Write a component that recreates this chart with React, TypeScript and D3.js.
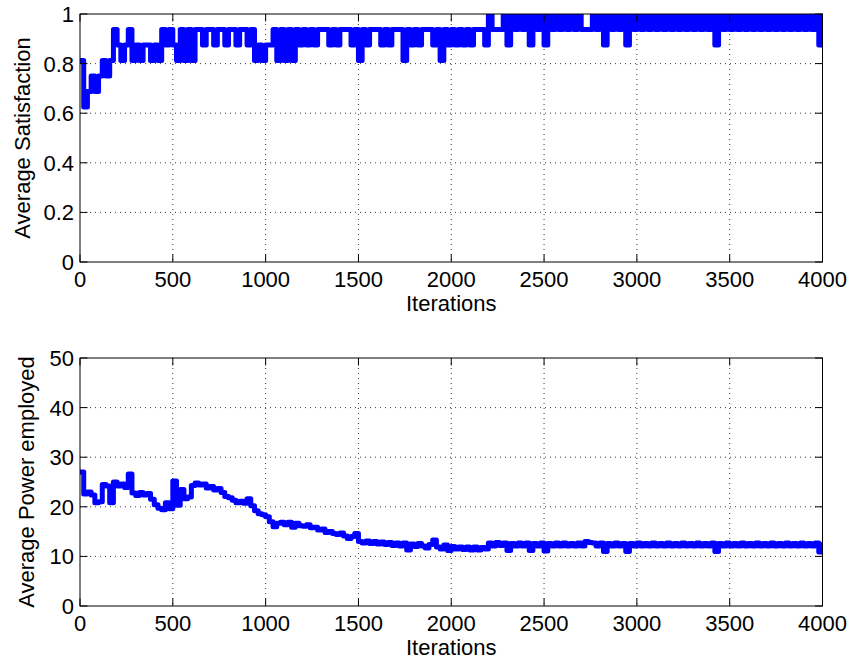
import React from "react";
import * as d3 from "d3";

// ---------- data ----------
const ITERATION_STEP = 20; // samples read every 20 iterations
const USERS = 16;
const X_TICKS = [0, 500, 1000, 1500, 2000, 2500, 3000, 3500, 4000];
const SAT_TICKS = [0, 0.2, 0.4, 0.6, 0.8, 1];
const SAT_TICK_LABELS = ["0", "0.2", "0.4", "0.6", "0.8", "1"];
const POW_TICKS = [0, 10, 20, 30, 40, 50];
const POW_TICK_LABELS = ["0", "10", "20", "30", "40", "50"];

// number of satisfied users (out of 16), one value every 20 iterations
const satisfiedUsers = [
  13, 10, 11, 12, 11, 12, 13, 12, 13, 15,
  14, 13, 14, 15, 13, 14, 13, 14, 14, 13,
  14, 13, 15, 14, 15, 14, 13, 15, 13, 15,
  13, 15, 15, 14, 15, 15, 14, 15, 15, 14,
  15, 15, 14, 15, 15, 14, 15, 13, 14, 13,
  14, 14, 15, 13, 15, 13, 15, 13, 15, 14,
  15, 14, 15, 14, 15, 15, 15, 14, 15, 14,
  15, 15, 15, 14, 15, 13, 15, 14, 15, 15,
  15, 14, 15, 14, 15, 15, 15, 13, 15, 14,
  15, 14, 15, 15, 15, 14, 15, 13, 15, 14,
  15, 14, 15, 14, 15, 14, 15, 15, 15, 14,
  16, 15, 15, 15, 16, 14, 16, 15, 16, 15,
  16, 14, 16, 15, 16, 14, 16, 15, 16, 15,
  16, 15, 16, 15, 16, 15, 15, 15, 16, 15,
  16, 14, 16, 15, 16, 15, 16, 14, 16, 15,
  16, 15, 16, 15, 16, 15, 16, 15, 16, 15,
  16, 15, 16, 15, 16, 15, 16, 15, 16, 15,
  16, 14, 16, 15, 16, 15, 16, 15, 16, 15,
  16, 15, 16, 15, 16, 15, 16, 15, 16, 15,
  16, 15, 16, 15, 16, 15, 16, 15, 16, 14,
  16,
];

// average power employed, one value every 20 iterations
const averagePower = [
  27.0, 22.6, 23.0, 22.4, 20.8, 21.0, 24.5, 24.2, 20.8, 25.0,
  24.2, 24.6, 23.9, 26.6, 22.8, 22.3, 22.9, 22.4, 22.7, 21.5,
  20.4, 19.7, 19.4, 20.8, 19.6, 25.2, 20.3, 23.5, 21.6, 22.0,
  24.3, 24.8, 24.4, 24.6, 23.8, 24.1, 23.4, 23.7, 22.9, 22.1,
  21.8, 21.3, 20.8, 21.1, 20.7, 21.6, 20.2, 19.2, 18.6, 18.4,
  18.0, 17.0, 16.0, 16.7, 16.9, 16.4, 16.9, 15.9, 16.7, 16.2,
  16.1, 16.4, 15.8, 15.9, 15.3, 15.5, 14.8, 15.0, 14.6, 14.4,
  14.7, 14.1, 13.6, 14.0, 14.6, 13.0, 12.7, 13.1, 12.6, 13.0,
  12.5, 12.9, 12.4, 12.8, 12.2, 12.7, 12.1, 12.7, 11.3, 12.5,
  12.0, 12.6, 12.1, 11.7, 12.4, 13.3, 11.9, 11.5, 12.3, 11.2,
  12.0, 11.5, 11.9, 11.4, 11.9, 11.3, 11.9, 11.3, 11.8, 11.5,
  12.7, 12.1, 12.8, 12.2, 12.7, 11.2, 12.6, 12.1, 12.7, 12.1,
  12.7, 11.2, 12.6, 12.1, 12.7, 11.1, 12.6, 12.1, 12.7, 12.1,
  12.7, 12.1, 12.6, 12.1, 12.7, 12.1, 13.0, 12.8, 12.7, 12.1,
  12.7, 11.0, 12.6, 12.1, 12.7, 12.1, 12.6, 11.0, 12.6, 12.1,
  12.7, 12.1, 12.6, 12.1, 12.7, 12.1, 12.6, 12.1, 12.7, 12.1,
  12.6, 12.1, 12.7, 12.1, 12.6, 12.1, 12.7, 12.1, 12.6, 12.1,
  12.7, 11.0, 12.6, 12.1, 12.7, 12.1, 12.6, 12.1, 12.7, 12.1,
  12.6, 12.1, 12.7, 12.1, 12.6, 12.1, 12.7, 12.1, 12.6, 12.1,
  12.7, 12.1, 12.6, 12.1, 12.7, 12.1, 12.6, 12.1, 12.7, 10.9,
  12.4,
];

// ---------- layout ----------
const W = 849;
const H = 660;
const LEFT = 80;
const RIGHT = 822.5;
const FONT = "'Liberation Sans', Arial, Helvetica, sans-serif";
const FS = 22;
const TICK = 7.5;

type PanelProps = {
  id: string;
  top: number;
  bottom: number;
  yDomain: [number, number];
  yTicks: number[];
  yTickLabels: string[];
  yLabel: string;
  yLabelX: number;
  values: number[];
};

function Panel({ id, top, bottom, yDomain, yTicks, yTickLabels, yLabel, yLabelX, values }: PanelProps) {
  const x = d3.scaleLinear().domain([0, 4000]).range([LEFT, RIGHT]);
  const y = d3.scaleLinear().domain(yDomain).range([bottom, top]);
  const line = d3
    .line<number>()
    .x((_, i) => x(i * ITERATION_STEP))
    .y((d) => y(d))
    .curve(d3.curveStepAfter);
  const path = line(values) || "";
  const grid = "#3a3a3a";
  return (
    <g>
      <defs>
        <clipPath id={id}>
          <rect x={LEFT} y={top} width={RIGHT - LEFT} height={bottom - top} />
        </clipPath>
      </defs>
      {X_TICKS.slice(1, -1).map((t) => (
        <line key={"gx" + t} x1={x(t)} x2={x(t)} y1={top} y2={bottom} stroke={grid} strokeWidth={1} strokeDasharray="1,4" />
      ))}
      {yTicks.slice(1, -1).map((t) => (
        <line key={"gy" + t} x1={LEFT} x2={RIGHT} y1={y(t)} y2={y(t)} stroke={grid} strokeWidth={1} strokeDasharray="1,4" />
      ))}
      <path d={path} fill="none" stroke="#0000ff" strokeWidth={5} strokeLinejoin="round" strokeLinecap="round" clipPath={`url(#${id})`} />
      {X_TICKS.map((t) => (
        <g key={"tx" + t}>
          <line x1={x(t)} x2={x(t)} y1={bottom} y2={bottom - TICK} stroke="#000" strokeWidth={1} />
          <line x1={x(t)} x2={x(t)} y1={top} y2={top + TICK} stroke="#000" strokeWidth={1} />
          <text x={x(t)} y={bottom + 25} textAnchor="middle" fontSize={FS} fontFamily={FONT} fill="#000">
            {t}
          </text>
        </g>
      ))}
      {yTicks.map((t, i) => (
        <g key={"ty" + t}>
          <line x1={LEFT} x2={LEFT + TICK} y1={y(t)} y2={y(t)} stroke="#000" strokeWidth={1} />
          <line x1={RIGHT} x2={RIGHT - TICK} y1={y(t)} y2={y(t)} stroke="#000" strokeWidth={1} />
          <text x={74} y={y(t)} dy="0.36em" textAnchor="end" fontSize={FS} fontFamily={FONT} fill="#000">
            {yTickLabels[i]}
          </text>
        </g>
      ))}
      <rect x={LEFT} y={top} width={RIGHT - LEFT} height={bottom - top} fill="none" stroke="#000" strokeWidth={1} />
      <text x={(LEFT + RIGHT) / 2} y={bottom + 49} textAnchor="middle" fontSize={FS} fontFamily={FONT} fill="#000">
        Iterations
      </text>
      <text
        transform={`translate(${yLabelX},${(top + bottom) / 2}) rotate(-90)`}
        textAnchor="middle"
        fontSize={FS}
        fontFamily={FONT}
        fill="#000"
      >
        {yLabel}
      </text>
    </g>
  );
}

export default function App() {
  const satisfaction = satisfiedUsers.map((k) => k / USERS);
  return (
    <svg width={W} height={H} style={{ position: "absolute", left: 0, top: 0, background: "#fff" }}>
      <rect x={0} y={0} width={W} height={H} fill="#fff" />
      <Panel
        id="clipTop"
        top={14}
        bottom={262}
        yDomain={[0, 1]}
        yTicks={SAT_TICKS}
        yTickLabels={SAT_TICK_LABELS}
        yLabel="Average Satisfaction"
        yLabelX={30}
        values={satisfaction}
      />
      <Panel
        id="clipBottom"
        top={358}
        bottom={606}
        yDomain={[0, 50]}
        yTicks={POW_TICKS}
        yTickLabels={POW_TICK_LABELS}
        yLabel="Average Power employed"
        yLabelX={34}
        values={averagePower}
      />
    </svg>
  );
}
